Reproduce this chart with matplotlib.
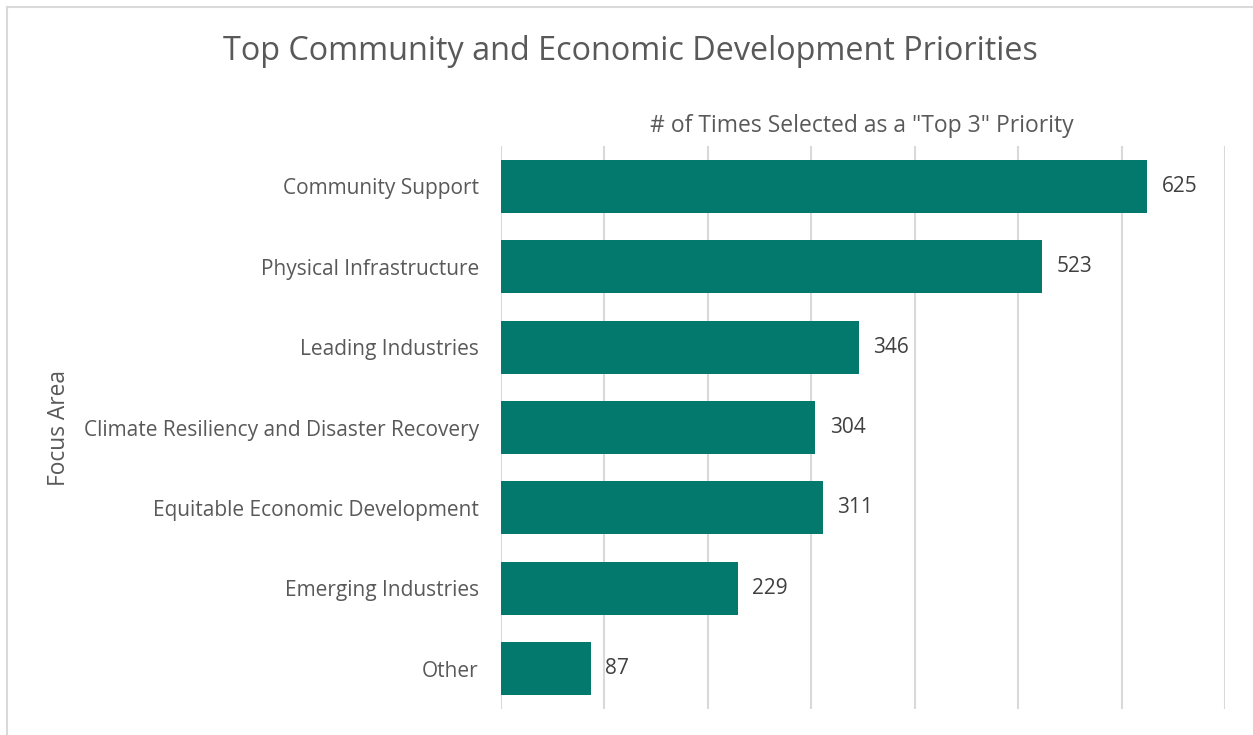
import matplotlib.pyplot as plt
from matplotlib.lines import Line2D

# chart data
categories = [
    "Community Support",
    "Physical Infrastructure",
    "Leading Industries",
    "Climate Resiliency and Disaster Recovery",
    "Equitable Economic Development",
    "Emerging Industries",
    "Other",
]
counts = [625, 523, 346, 304, 311, 229, 87]

title = "Top Community and Economic Development Priorities"
x_label = '# of Times Selected as a "Top 3" Priority'
y_label = "Focus Area"

bar_color = "#03786D"
text_color = "#595959"
grid_color = "#D9D9D9"

plt.rcParams["font.family"] = ["Open Sans", "DejaVu Sans"]

W, H = 1253, 735
fig = plt.figure(figsize=(W / 100, H / 100), dpi=100)
ax = fig.add_axes([501 / W, 1 - 709 / H, 724 / W, 563 / H])

y_pos = list(range(len(categories)))
ax.barh(y_pos, counts, height=0.66, color=bar_color, zorder=3)
ax.set_ylim(len(categories) - 0.5, -0.5)
ax.set_xlim(0, 700)

ax.set_yticks(y_pos)
ax.set_yticklabels(categories, fontsize=15, color=text_color)
ax.tick_params(axis="y", length=0, pad=16)
ax.set_xticks(range(0, 701, 100))
ax.tick_params(axis="x", length=0, labelbottom=False)
ax.grid(axis="x", color=grid_color, linewidth=1.5, zorder=0)
for s in ax.spines.values():
    s.set_visible(False)

for y, v in zip(y_pos, counts):
    ax.text(v + 14, y, str(v), va="center", ha="left", fontsize=15, color="#404040")

fig.text(862 / W, 1 - 126 / H, x_label, ha="center", va="center",
         fontsize=16.5, color=text_color)
fig.text(630 / W, 1 - 51 / H, title, ha="center", va="center",
         fontsize=23.3, color=text_color)
fig.text(59 / W, 1 - 428 / H, y_label, ha="center", va="center",
         rotation=90, fontsize=16.4, color=text_color)

# outer chart border (cut off at right and bottom)
fig.add_artist(Line2D([6.5 / W, 1], [1 - 6.5 / H, 1 - 6.5 / H], color=grid_color, lw=1.5))
fig.add_artist(Line2D([6.5 / W, 6.5 / W], [0, 1 - 6.5 / H], color=grid_color, lw=1.5))

fig.savefig("out.png", dpi=100, facecolor="white")
